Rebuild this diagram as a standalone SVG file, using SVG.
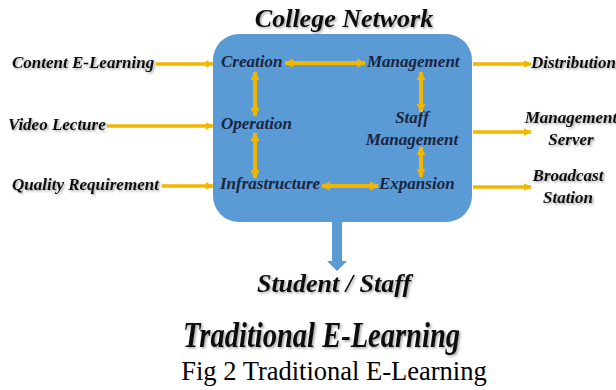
<svg xmlns="http://www.w3.org/2000/svg" width="616" height="390" viewBox="0 0 616 390">
<defs>
<filter id="sh" x="-10%" y="-30%" width="130%" height="170%">
<feDropShadow dx="1.5" dy="1.5" stdDeviation="1" flood-color="#000" flood-opacity="0.35"/>
</filter>
<marker id="ah2" viewBox="0 0 10 10" refX="9" refY="5" markerWidth="2.2" markerHeight="2.4" orient="auto-start-reverse">
<path d="M0,0 L10,5 L0,10 z" fill="#f2b600"/>
</marker>
</defs>
<style>
.ar{stroke:#f2b600;stroke-width:3.5;fill:none;marker-end:url(#ah2);}
.ar2{stroke:#f2b600;stroke-width:4;fill:none;marker-end:url(#ah2);marker-start:url(#ah2);}
</style>
<rect width="616" height="390" fill="#fff"/>

<g font-family="Liberation Serif" font-weight="bold" font-style="italic" font-size="17" fill="#111">
<g id="college-network">
<rect x="213" y="34" width="259" height="188" rx="26" ry="26" fill="#5b9bd5"/>
<text x="344" y="27" font-size="26" text-anchor="middle" filter="url(#sh)">College Network</text>
</g>

<g id="content-elearning"><text x="12" y="68" filter="url(#sh)">Content E-Learning</text></g>
<g id="video-lecture"><text x="8" y="130" filter="url(#sh)">Video Lecture</text></g>
<g id="quality-requirement"><text x="12" y="190" filter="url(#sh)">Quality Requirement</text></g>

<g fill="#1a2540">
<g id="creation"><text x="221" y="67">Creation</text></g>
<g id="management"><text x="367" y="67">Management</text></g>
<g id="operation"><text x="221" y="129">Operation</text></g>
<g id="staff-management"><text x="412" y="123" text-anchor="middle">Staff</text><text x="412" y="145" text-anchor="middle">Management</text></g>
<g id="infrastructure"><text x="220" y="189">Infrastructure</text></g>
<g id="expansion"><text x="379" y="189">Expansion</text></g>
</g>

<g id="distribution"><text x="531" y="68" filter="url(#sh)">Distribution</text></g>
<g id="management-server"><text x="571" y="123" text-anchor="middle" filter="url(#sh)">Management</text><text x="571" y="145" text-anchor="middle" filter="url(#sh)">Server</text></g>
<g id="broadcast-station"><text x="568" y="181" text-anchor="middle" filter="url(#sh)">Broadcast</text><text x="568" y="203" text-anchor="middle" filter="url(#sh)">Station</text></g>

<g id="student-staff"><text x="334" y="292" font-size="26" text-anchor="middle" filter="url(#sh)">Student / Staff</text></g>
</g>

<g id="connectors">
<line class="ar" x1="156" y1="64" x2="213" y2="64"/>
<line class="ar" x1="107" y1="126" x2="213" y2="126"/>
<line class="ar" x1="162" y1="186" x2="213" y2="186"/>
<line class="ar2" x1="285" y1="63" x2="365" y2="63"/>
<line class="ar2" x1="255" y1="72" x2="255" y2="116"/>
<line class="ar2" x1="255" y1="133" x2="255" y2="178"/>
<line class="ar2" x1="322" y1="186" x2="378" y2="186"/>
<line class="ar2" x1="421" y1="72" x2="421" y2="112"/>
<line class="ar2" x1="421" y1="147" x2="421" y2="177"/>
<line class="ar" x1="473" y1="64" x2="531" y2="64"/>
<line class="ar" x1="473" y1="132" x2="531" y2="132"/>
<line class="ar" x1="473" y1="187" x2="531" y2="187"/>
<path d="M332,222 L342,222 L342,261 L347,261 L337,271 L327,261 L332,261 Z" fill="#5b9bd5"/>
</g>

<text x="183" y="347" font-size="36" font-weight="bold" font-style="italic" fill="#111" font-family="Liberation Serif" textLength="277" lengthAdjust="spacingAndGlyphs" filter="url(#sh)">Traditional E-Learning</text>
<text x="334" y="380" font-size="26.5" text-anchor="middle" fill="#000" font-family="Liberation Serif">Fig 2 Traditional E-Learning</text>
</svg>
